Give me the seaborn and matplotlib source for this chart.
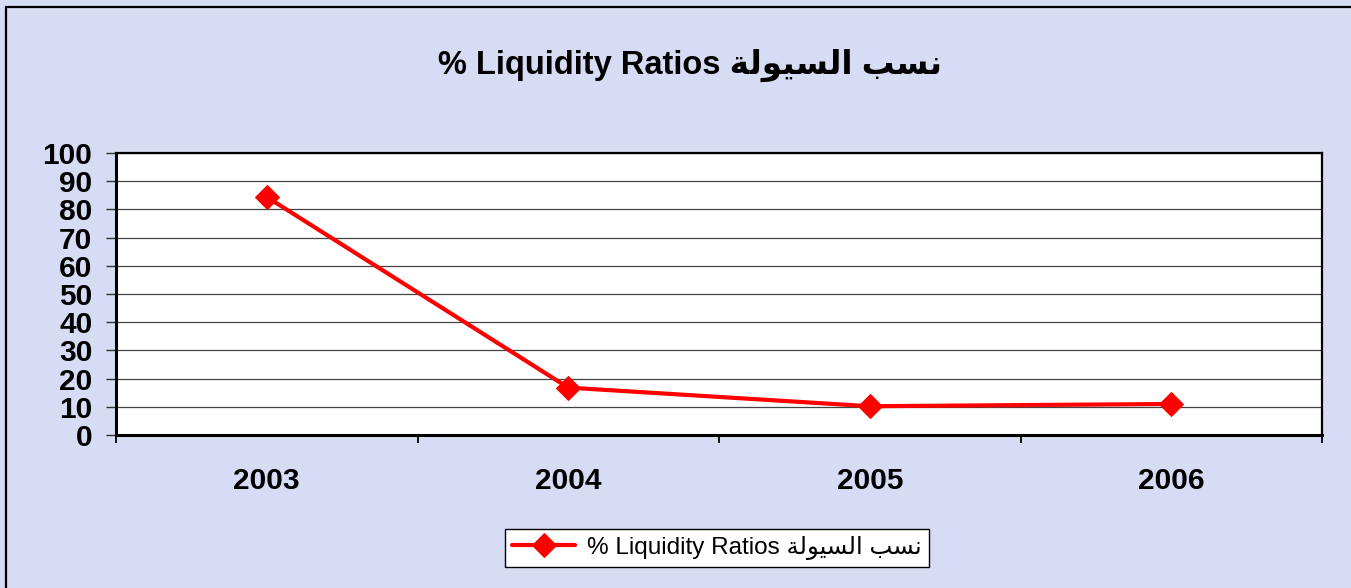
import matplotlib
matplotlib.use("Agg")
import matplotlib.pyplot as plt
import seaborn as sns
from matplotlib.lines import Line2D

# data
years = ["2003", "2004", "2005", "2006"]
liquidity = [84.4, 16.8, 10.2, 11.0]
y_ticks = list(range(0, 101, 10))

# Arabic "نسب السيولة" in shaped presentation forms, visual (left-to-right) order
arabic_visual = "\uFE94\uFEDF\uFEEE\uFEF4\uFEB4\uFEDF\uFE8D \uFE90\uFEB4\uFEE7"
series_label = "% Liquidity Ratios " + arabic_visual

sns.set_style("white")
plt.rcParams["font.family"] = ["Liberation Sans", "DejaVu Sans"]
plt.rcParams["text.color"] = "black"
plt.rcParams["xtick.color"] = "black"
plt.rcParams["ytick.color"] = "black"

W, H = 1351, 588
fig = plt.figure(figsize=(W / 100, H / 100), dpi=100)
fig.patch.set_facecolor("#d6dcf4")

ax = fig.add_axes([116 / W, 1 - 435 / H, (1322 - 116) / W, (435 - 153) / H])
ax.set_facecolor("white")

sns.lineplot(x=years, y=liquidity, ax=ax, color="#ff0000", linewidth=3,
             marker="D", markersize=12.5, markeredgecolor="#ff0000",
             label=series_label, sort=False)

ax.set_xlim(-0.5, 3.5)
ax.set_ylim(0, 100)
ax.set_yticks(y_ticks)
ax.set_yticklabels([str(v) for v in y_ticks], fontsize=21.5, fontweight="bold")
ax.yaxis.grid(True, color="#444444", linewidth=0.9)
ax.set_axisbelow(True)

# category boundaries as major ticks, labels at the centres
ax.set_xticks([-0.5, 0.5, 1.5, 2.5, 3.5])
ax.set_xticklabels([""] * 5)
ax.set_xticks(range(len(years)), minor=True)
ax.set_xticklabels(years, minor=True, fontsize=21.5, fontweight="bold")
ax.tick_params(axis="x", which="major", direction="out", length=6, width=1.3, color="black", bottom=True)
ax.tick_params(axis="x", which="minor", length=0, pad=23)
ax.tick_params(axis="y", direction="out", length=7, width=1, color="#333333", pad=10, left=True)
ax.set_xlabel("")
ax.set_ylabel("")

for side in ["left", "bottom"]:
    ax.spines[side].set_linewidth(2.2)
    ax.spines[side].set_color("black")
for side in ["top", "right"]:
    ax.spines[side].set_linewidth(1.6)
    ax.spines[side].set_color("black")

fig.text(690 / W, 1 - 65 / H, series_label, ha="center", va="center",
         fontsize=23.5, fontweight="bold", color="black")

handles, labels = ax.get_legend_handles_labels()
ax.get_legend().remove()
leg = fig.legend(handles, labels, loc="center", bbox_to_anchor=(717 / W, 1 - 548 / H),
                 fontsize=17.5, frameon=True, fancybox=False, framealpha=1,
                 edgecolor="black", handlelength=2.6, borderpad=0.3, handletextpad=0.5)
leg.get_frame().set_linewidth(1.0)
for t in leg.get_texts():
    t.set_color("black")

# outer chart border (only left and top show in the picture)
fig.add_artist(Line2D([6 / W, 6 / W], [0, 1 - 7 / H], transform=fig.transFigure, color="black", linewidth=1.6))
fig.add_artist(Line2D([6 / W, 1], [1 - 7 / H, 1 - 7 / H], transform=fig.transFigure, color="black", linewidth=1.6))

fig.savefig("out.png", dpi=100, facecolor=fig.get_facecolor())
